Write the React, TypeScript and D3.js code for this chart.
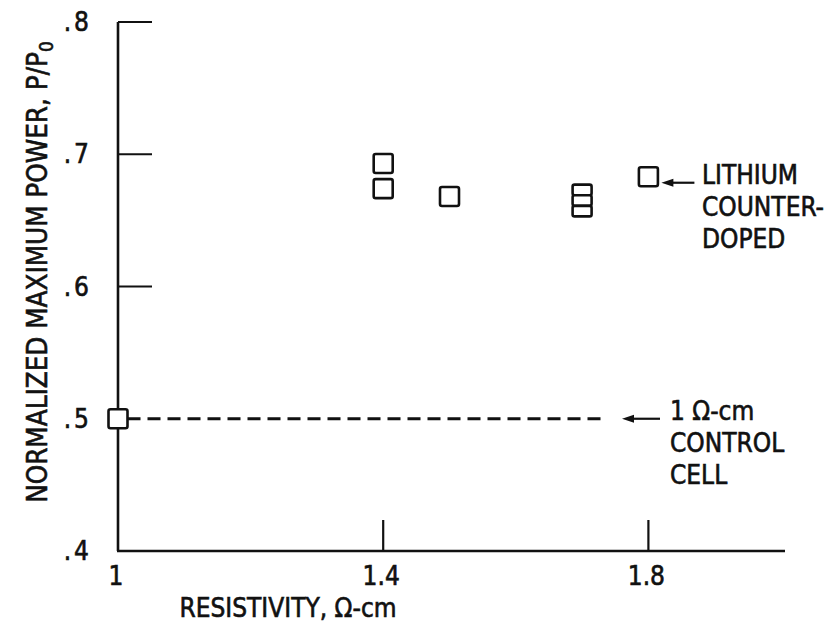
import React, { useRef, useEffect } from "react";
import * as d3 from "d3";

// resistivity (ohm-cm) and normalized max power for each cell
const resistivity = [1.0, 1.4, 1.4, 1.5, 1.7, 1.7, 1.7, 1.8];
const powerRatio = [0.5, 0.693, 0.674, 0.668, 0.673, 0.665, 0.657, 0.683];

const controlLevel = 0.5;
const xTicks = [1, 1.4, 1.8];
const xTickLabels = ["1", "1.4", "1.8"];
const yTicks = [0.4, 0.5, 0.6, 0.7, 0.8];
const yTickLabels = [".4", ".5", ".6", ".7", ".8"];
const lithiumNote = ["LITHIUM", "COUNTER-", "DOPED"];
const controlNote = ["1 \u03a9-cm", "CONTROL", "CELL"];

const FONT = "'Liberation Sans Narrow', 'DejaVu Sans Condensed', sans-serif";

const App = () => {
  const ref = useRef(null);

  useEffect(() => {
    const svg = d3.select(ref.current);
    svg.selectAll("*").remove();

    const x = d3.scaleLinear().domain([1, 2]).range([118, 781]);
    const y = d3.scaleLinear().domain([0.4, 0.8]).range([551, 22]);
    const ink = "#111";
    const g = svg.append("g")
      .attr("font-family", FONT)
      .attr("fill", ink);
    // lettering in the original is a bit heavier than the regular face
    const txt = sel => sel.attr("stroke", ink).attr("stroke-width", 0.6);

    // axes
    g.append("line")
      .attr("x1", x(1)).attr("x2", x(1))
      .attr("y1", y(0.8)).attr("y2", y(0.4))
      .attr("stroke", ink).attr("stroke-width", 2.6);
    g.append("line")
      .attr("x1", x(1) - 1).attr("x2", x(2) + 4)
      .attr("y1", y(0.4)).attr("y2", y(0.4))
      .attr("stroke", ink).attr("stroke-width", 2.6);

    // y ticks (the .5 one is hidden under the control line)
    g.selectAll(".ytick")
      .data(yTicks.filter(d => d > 0.55))
      .enter().append("line")
      .attr("x1", x(1)).attr("x2", x(1) + 34)
      .attr("y1", d => y(d)).attr("y2", d => y(d))
      .attr("stroke", ink).attr("stroke-width", 2.2);
    g.selectAll(".ylab")
      .data(yTicks)
      .enter().append("text")
      .attr("x", 92).attr("y", d => y(d) + 9)
      .attr("text-anchor", "end")
      .attr("font-size", 26)
      .attr("letter-spacing", 3)
      .call(txt)
      .text((d, i) => yTickLabels[i]);

    // x ticks
    g.selectAll(".xtick")
      .data(xTicks.filter(d => d > 1))
      .enter().append("line")
      .attr("x1", d => x(d)).attr("x2", d => x(d))
      .attr("y1", y(0.4)).attr("y2", y(0.4) - 31)
      .attr("stroke", ink).attr("stroke-width", 2.2);
    g.selectAll(".xlab")
      .data(xTicks)
      .enter().append("text")
      .attr("x", d => x(d) - 2).attr("y", 585)
      .attr("text-anchor", "middle")
      .attr("font-size", 26)
      .call(txt)
      .text((d, i) => xTickLabels[i]);

    // axis titles
    g.append("text")
      .attr("x", 288).attr("y", 617)
      .attr("text-anchor", "middle")
      .attr("font-size", 26)
      .call(txt)
      .text("RESISTIVITY, \u03a9-cm");
    const yt = g.append("text")
      .attr("transform", "translate(47,272) rotate(-90)")
      .attr("text-anchor", "middle")
      .attr("font-size", 27.5)
      .call(txt);
    yt.append("tspan").text("NORMALIZED MAXIMUM POWER, P/P");
    yt.append("tspan").attr("dy", 6).attr("font-size", 19).text("0");

    // control cell dashed line and note
    const size = 19;
    g.append("line")
      .attr("x1", x(1) + size / 2).attr("x2", 605)
      .attr("y1", y(controlLevel)).attr("y2", y(controlLevel))
      .attr("stroke", ink).attr("stroke-width", 3.2)
      .attr("stroke-dasharray", "13,7");

    const arrow = (x0, x1, yy) => {
      g.append("line")
        .attr("x1", x0 + 8).attr("x2", x1)
        .attr("y1", yy).attr("y2", yy)
        .attr("stroke", ink).attr("stroke-width", 2.2);
      g.append("path")
        .attr("d", `M${x0},${yy} L${x0 + 12},${yy - 4} L${x0 + 12},${yy + 4} Z`)
        .attr("fill", ink);
    };
    arrow(622, 660, y(controlLevel));
    controlNote.forEach((t, i) => {
      g.append("text")
        .attr("x", 670).attr("y", 420 + i * 32)
        .attr("font-size", 26)
        .call(txt)
        .text(t);
    });

    const lastX = resistivity[resistivity.length - 1];
    const lastY = powerRatio[powerRatio.length - 1];
    arrow(x(lastX) + 13, x(lastX) + 46, y(lastY) + 6);
    lithiumNote.forEach((t, i) => {
      g.append("text")
        .attr("x", 702).attr("y", 184 + i * 32)
        .attr("font-size", 26)
        .call(txt)
        .text(t);
    });

    // markers: open squares, stacked ones share a box split into cells
    const pts = resistivity.map((r, i) => ({ r, p: powerRatio[i] }));
    const cellHeight = d => {
      const gaps = pts
        .filter(o => o !== d && o.r === d.r)
        .map(o => Math.abs(y(o.p) - y(d.p)));
      return Math.min(size, ...gaps);
    };
    g.selectAll(".pt")
      .data(pts)
      .enter().append("rect")
      .attr("x", d => x(d.r) - size / 2)
      .attr("y", d => y(d.p) - cellHeight(d) / 2)
      .attr("width", size)
      .attr("height", d => cellHeight(d))
      .attr("rx", 2)
      .attr("fill", "white")
      .attr("stroke", ink)
      .attr("stroke-width", 2.6);
  }, []);

  return (
    <div style={{ position: "absolute", left: 0, top: 0 }}>
      <svg ref={ref} width={828} height={626} style={{ display: "block", background: "white" }}></svg>
    </div>
  );
};

export default App;
